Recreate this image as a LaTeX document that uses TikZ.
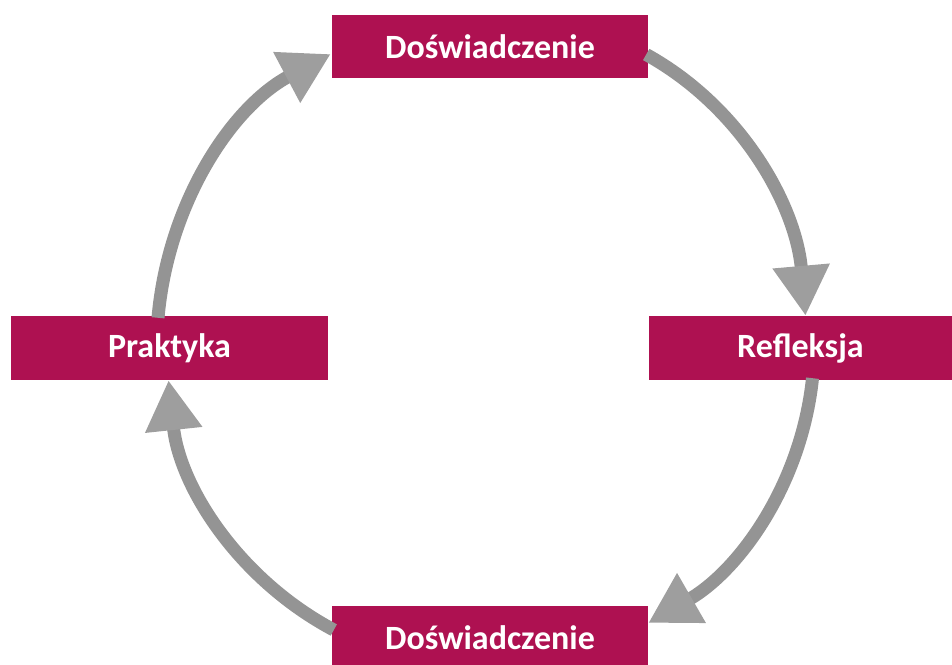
\documentclass[tikz,border=0pt]{standalone}
\usepackage{fontspec}
\setmainfont{Carlito}
\usetikzlibrary{arrows.meta,calc}
\definecolor{boxred}{RGB}{174,17,81}
\definecolor{shaft}{RGB}{148,148,148}
\definecolor{head}{RGB}{158,158,158}
\tikzset{
  stage/.style={fill=boxred, draw=none, text=white, font=\fontsize{34}{37}\selectfont\bfseries, inner sep=0pt, align=center},
  cyclearrow/.style={draw=shaft, line width=13pt, looseness=0.92, -{Triangle[length=50pt,width=54pt,color=head]}}
}
\begin{document}
\begin{tikzpicture}[x=1pt,y=1pt]
\useasboundingbox (0,0) rectangle (952,664);
\node[stage, minimum width=316pt, minimum height=63pt] (top) at (490,617.5) {Doświadczenie};
\node[stage, minimum width=303pt, minimum height=64pt] (right) at (800.5,316) {Refleksja};
\node[stage, minimum width=317pt, minimum height=64pt] (left) at (169.5,316) {Praktyka};
\node[stage, minimum width=316pt, minimum height=64pt] (bottom) at (490,26) {Doświadczenie};

\coordinate (a1s) at ($(top.east)+(-2,-8)$);
\coordinate (a1e) at ($(right.north)+(5,0)$);
\coordinate (a2s) at ($(right.south)+(12,2)$);
\coordinate (a2e) at ($(bottom.east)+(0,15)$);
\coordinate (a3s) at ($(bottom.west)+(2,8)$);
\coordinate (a3e) at ($(left.south)+(-1,0)$);
\coordinate (a4s) at ($(left.north)+(-11.5,-2)$);
\coordinate (a4e) at ($(top.west)+(-1,-7.5)$);

\draw[cyclearrow] (a1s) to[out=-29,in=95] (a1e);
\draw[cyclearrow] (a2s) to[out=-96,in=30] (a2e);
\draw[cyclearrow] (a3s) to[out=152,in=-84] (a3e);
\draw[cyclearrow] (a4s) to[out=85,in=208] (a4e);
\end{tikzpicture}
\end{document}
